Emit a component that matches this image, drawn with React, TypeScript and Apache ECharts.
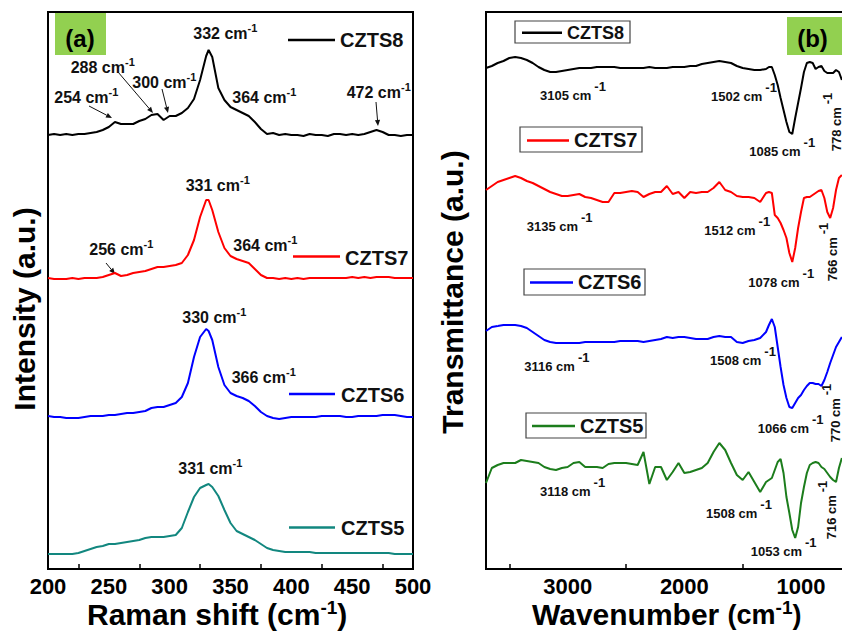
import React, { useEffect, useRef } from 'react';
import * as echarts from 'echarts';

const FONT = '"Liberation Sans", Arial, Helvetica, sans-serif';

// ---------- Raman (panel a) ----------
const ramanShift = [
  200, 205, 210, 215, 220, 225, 230, 235, 240, 245,
  250, 255, 260, 265, 270, 275, 280, 285, 290, 295,
  300, 305, 310, 315, 320, 325, 330, 332, 335, 340, 345,
  350, 355, 360, 365, 370, 375, 380, 385, 390, 395,
  400, 405, 410, 415, 420, 425, 430, 435, 440, 445,
  450, 455, 460, 465, 470, 475, 480, 485, 490, 495,
  500,
];
const ramanCZTS8 = [
  434, 435, 434, 435, 434, 435, 435, 436, 437, 439,
  442, 447, 445, 445, 445, 448, 450, 454, 455, 449,
  453, 453, 456, 461, 470, 489, 513, 519, 512, 481, 469,
  462, 459, 456, 453, 447, 440, 435, 436, 434, 435,
  434, 434, 433, 435, 434, 434, 433, 435, 435, 434,
  435, 434, 435, 437, 439, 437, 434, 434, 433, 434,
  434,
];
const ramanCZTS7 = [
  291, 290, 290, 290, 291, 290, 291, 291, 291, 292,
  294, 296, 293, 294, 296, 297, 298, 300, 302, 302,
  303, 304, 306, 314, 329, 352, 369, 369, 359, 337, 321,
  313, 310, 308, 306, 300, 294, 291, 291, 290, 291,
  290, 291, 290, 291, 291, 291, 291, 291, 291, 291,
  292, 291, 292, 291, 292, 292, 292, 291, 291, 291,
  291,
];
const ramanCZTS6 = [
  153, 152, 152, 151, 151, 151, 152, 153, 153, 153,
  154, 154, 155, 156, 156, 157, 158, 161, 162, 162,
  164, 166, 172, 186, 212, 232, 240, 238, 229, 202, 184,
  176, 173, 171, 168, 163, 157, 153, 151, 150, 151,
  152, 152, 152, 152, 152, 153, 153, 153, 153, 152,
  152, 153, 153, 153, 153, 154, 154, 154, 153, 152,
  152,
];
const ramanCZTS5 = [
  15, 15, 15, 15, 15, 16, 18, 20, 22, 23,
  25, 25, 26, 27, 28, 29, 31, 32, 32, 32,
  33, 34, 41, 57, 72, 81, 84, 85, 82, 73, 59,
  46, 38, 35, 32, 29, 25, 21, 19, 18, 17,
  17, 17, 17, 17, 16, 16, 16, 16, 16, 16,
  16, 16, 16, 16, 16, 16, 16, 15, 15, 15,
  15,
];
const ramanTicks = [200, 250, 300, 350, 400, 450, 500];

// ---------- FTIR (panel b) ----------
const wavenumber = [
  3700, 3650, 3600, 3550, 3500, 3450, 3400, 3350, 3300, 3250,
  3200, 3150, 3100, 3050, 3000, 2950, 2900, 2850, 2800, 2750,
  2700, 2650, 2600, 2550, 2500, 2450, 2400, 2350, 2300, 2250,
  2200, 2150, 2100, 2050, 2000, 1950, 1900, 1850, 1800, 1750,
  1700, 1650, 1600, 1550, 1500, 1450, 1400, 1350, 1300,
  1275, 1250, 1225, 1200, 1175, 1150, 1125, 1100, 1075, 1050,
  1025, 1000, 975, 950, 925, 900, 875, 850, 825, 800,
  775, 750, 725, 700, 675, 650,
];
const ftirCZTS8 = [
  501, 503, 506, 508, 511, 512, 511, 509, 506, 502,
  499, 497, 497, 498, 499, 500, 501, 501, 501, 502,
  502, 502, 502, 501, 501, 501, 501, 501, 502, 501,
  501, 501, 502, 502, 502, 503, 503, 505, 506, 507,
  508, 507, 506, 503, 501, 500, 499, 499, 500,
  502, 502, 494, 484, 471, 459, 447, 437, 435, 451,
  466, 481, 497, 506, 507, 506, 500, 502, 503, 498,
  496, 496, 496, 499, 497, 489,
];
const ftirCZTS7 = [
  379, 383, 387, 389, 391, 393, 391, 388, 386, 383,
  380, 377, 375, 373, 373, 374, 375, 372, 371, 369,
  367, 367, 376, 376, 377, 378, 377, 372, 375, 377,
  377, 383, 375, 377, 371, 377, 376, 377, 377, 381,
  387, 379, 377, 373, 372, 372, 371, 367, 376,
  377, 376, 354, 351, 346, 339, 331, 316, 307, 321,
  341, 357, 371, 372, 372, 374, 376, 378, 379, 371,
  357, 351, 361, 379, 391, 394,
];
const ftirCZTS6 = [
  238, 242, 243, 244, 244, 244, 243, 241, 237, 233,
  229, 227, 226, 226, 226, 226, 226, 227, 227, 227,
  227, 227, 227, 228, 228, 228, 228, 227, 228, 229,
  230, 232, 231, 232, 232, 231, 230, 230, 230, 232,
  233, 232, 232, 227, 226, 228, 229, 231, 237,
  244, 250, 242, 222, 202, 184, 171, 162, 161, 166,
  171, 174, 179, 183, 186, 186, 185, 185, 183, 189,
  197, 206, 214, 222, 227, 232,
];
const ftirCZTS5 = [
  86, 101, 104, 106, 106, 106, 109, 108, 107, 106,
  102, 100, 99, 101, 102, 106, 107, 102, 102, 102,
  101, 105, 106, 106, 106, 105, 104, 117, 85, 102,
  102, 89, 97, 106, 96, 97, 99, 101, 106, 117,
  126, 119, 106, 94, 89, 97, 87, 77, 87,
  89, 91, 99, 107, 110, 96, 72, 56, 39, 31,
  42, 66, 82, 96, 104, 106, 107, 106, 102, 100,
  96, 92, 89, 87, 101, 111,
];
const ftirTicks = [1000, 2000, 3000];

const sampleNames = ['CZTS8', 'CZTS7', 'CZTS6', 'CZTS5'];
const ramanColors = ['#000000', '#ff0000', '#0000ff', '#12877f'];
const ftirColors = ['#000000', '#ff0000', '#0000ff', '#1c7d1c'];

const ramanPeaks = ['332', '288', '300', '254', '364', '472', '331', '256', '364', '330', '366', '331'];
const ftirPeaks = ['3105', '1502', '1085', '3135', '1512', '1078', '3116', '1508', '1066', '3118', '1508', '1053'];
const ftirRotPeaks = ['778', '766', '770', '716'];

// ---------- helpers ----------
const txt = (x: number, y: number, text: string, size: number, extra: any = {}) => ({
  type: 'text',
  x,
  y,
  style: {
    text,
    fontSize: size,
    fontWeight: 'bold',
    fontFamily: FONT,
    fill: '#000',
    align: 'left',
    verticalAlign: 'middle',
    ...extra,
  },
});

const ramanRich = {
  n: { fontSize: 16, fontWeight: 'bold', fontFamily: FONT, fill: '#111', padding: [3, 0, 0, 0], verticalAlign: 'bottom' },
  s: { fontSize: 11, fontWeight: 'bold', fontFamily: FONT, fill: '#111', verticalAlign: 'top' },
};
const ftirRich = {
  n: { fontSize: 13, fontWeight: 'bold', fontFamily: FONT, fill: '#111', padding: [9, 0, 0, 0], verticalAlign: 'bottom' },
  s: { fontSize: 13, fontWeight: 'bold', fontFamily: FONT, fill: '#111', padding: [0, 0, 0, 3], verticalAlign: 'top' },
};

const ramanAnn = (x: number, yc: number, label: string) => ({
  type: 'text',
  x,
  y: yc - 1.5,
  style: {
    text: `{n|${label} cm}{s|-1}`,
    rich: ramanRich,
    fill: '#111',
    fontFamily: FONT,
    align: 'left',
    verticalAlign: 'middle',
  },
});

const ftirAnn = (x: number, yc: number, label: string) => ({
  type: 'text',
  x,
  y: yc - 4.5,
  style: {
    text: `{n|${label} cm}{s|-1}`,
    rich: ftirRich,
    fill: '#111',
    fontFamily: FONT,
    align: 'left',
    verticalAlign: 'middle',
  },
});

const ftirRotAnn = (xMain: number, yc: number, label: string) => ({
  type: 'text',
  x: xMain - 4.5,
  y: yc,
  rotation: Math.PI / 2,
  style: {
    text: `{n|${label} cm}{s|-1}`,
    rich: ftirRich,
    fill: '#111',
    fontFamily: FONT,
    align: 'center',
    verticalAlign: 'middle',
  },
});

const arrow = (x1: number, y1: number, x2: number, y2: number) => {
  const ang = Math.atan2(y2 - y1, x2 - x1);
  const L = 6;
  const W = 2.6;
  const bx = x2 - L * Math.cos(ang);
  const by = y2 - L * Math.sin(ang);
  const px = -Math.sin(ang) * W;
  const py = Math.cos(ang) * W;
  return [
    { type: 'line', shape: { x1, y1, x2: bx, y2: by }, style: { stroke: '#111', lineWidth: 1 } },
    {
      type: 'polygon',
      shape: { points: [[x2, y2], [bx + px, by + py], [bx - px, by - py]] },
      style: { fill: '#111' },
    },
  ];
};

const ramanLegend = (x1: number, x2: number, y: number, tx: number, ty: number, i: number) => [
  { type: 'line', shape: { x1, y1: y, x2, y2: y }, style: { stroke: ramanColors[i], lineWidth: 2.5 } },
  txt(tx, ty, sampleNames[i], 20, { fill: '#111' }),
];

const ftirLegend = (
  rx: number, ry: number, rw: number, rh: number,
  lx1: number, lx2: number, ly: number, tx: number, ty: number, size: number, i: number,
) => [
  { type: 'rect', shape: { x: rx, y: ry, width: rw, height: rh }, style: { fill: '#fff', stroke: '#444', lineWidth: 1.2 } },
  { type: 'line', shape: { x1: lx1, y1: ly, x2: lx2, y2: ly }, style: { stroke: ftirColors[i], lineWidth: 2.5 } },
  txt(tx, ty, sampleNames[i], size, { fill: '#111' }),
];

function buildOption(): any {
  const ramanSets = [ramanCZTS8, ramanCZTS7, ramanCZTS6, ramanCZTS5];
  const ftirSets = [ftirCZTS8, ftirCZTS7, ftirCZTS6, ftirCZTS5];

  const series: any[] = [];
  ramanSets.forEach((vals, i) => {
    series.push({
      name: 'Raman ' + sampleNames[i],
      type: 'line',
      xAxisIndex: 0,
      yAxisIndex: 0,
      showSymbol: false,
      symbol: 'none',
      silent: true,
      lineStyle: { color: ramanColors[i], width: 2 },
      data: ramanShift.map((x, k) => [x, vals[k]]),
    });
  });
  ftirSets.forEach((vals, i) => {
    series.push({
      name: 'FTIR ' + sampleNames[i],
      type: 'line',
      xAxisIndex: 1,
      yAxisIndex: 1,
      showSymbol: false,
      symbol: 'none',
      silent: true,
      lineStyle: { color: ftirColors[i], width: 2 },
      data: wavenumber.map((x, k) => [x, vals[k]]),
    });
  });

  const axisLabel = { fontSize: 22, lineHeight: 18, fontWeight: 'bold', color: '#000', fontFamily: FONT, margin: 8 };
  const minorTick = { show: true, splitNumber: 2, length: 5, lineStyle: { color: '#000', width: 1.5 } };

  const titleRich = {
    n: { fontSize: 30, fontWeight: 'bold', fontFamily: FONT, fill: '#000', padding: [2, 0, 0, 0], verticalAlign: 'bottom' },
    p: { fontSize: 27, fontWeight: 'bold', fontFamily: FONT, fill: '#000', padding: [0, 0, 1, 0], verticalAlign: 'bottom' },
    s: { fontSize: 19, fontWeight: 'bold', fontFamily: FONT, fill: '#000', verticalAlign: 'top' },
  };

  const graphic: any[] = [
    // panel tags
    { type: 'rect', shape: { x: 55, y: 13, width: 51, height: 42 }, style: { fill: '#92d050' } },
    txt(80, 38, '(a)', 24, { align: 'center' }),
    { type: 'rect', shape: { x: 787, y: 17, width: 60, height: 38 }, style: { fill: '#92d050' } },
    txt(812.5, 38, '(b)', 24, { align: 'center' }),

    // axis titles
    {
      type: 'text', x: 87, y: 613.5,
      style: {
        text: '{n|Raman shift (cm}{s|-1}{n|)}',
        align: 'left', verticalAlign: 'middle', fill: '#000', fontFamily: FONT,
        rich: titleRich,
      },
    },
    {
      type: 'text', x: 532, y: 613.5,
      style: {
        text: '{n|Wavenumber }{p|(cm}{s|-1}{p|)}',
        align: 'left', verticalAlign: 'middle', fill: '#000', fontFamily: FONT,
        rich: titleRich,
      },
    },
    {
      type: 'text', x: 24.5, y: 309, rotation: Math.PI / 2,
      style: { text: 'Intensity (a.u.)', fontSize: 30, fontWeight: 'bold', fontFamily: FONT, fill: '#000', align: 'center', verticalAlign: 'middle' },
    },
    {
      type: 'text', x: 452.5, y: 292, rotation: Math.PI / 2,
      style: { text: 'Transmittance (a.u.)', fontSize: 30, fontWeight: 'bold', fontFamily: FONT, fill: '#000', align: 'center', verticalAlign: 'middle' },
    },

    // Raman legends
    ...ramanLegend(288, 335, 40, 340, 40, 0),
    ...ramanLegend(293, 340, 256.5, 345, 258, 1),
    ...ramanLegend(289, 335, 394, 341, 394.5, 2),
    ...ramanLegend(289, 335, 527.5, 341, 528, 3),

    // FTIR legends
    ...ftirLegend(515, 21, 115, 22, 522, 562, 32.7, 567, 33, 18, 0),
    ...ftirLegend(520, 127, 122, 25, 527, 569, 140.5, 574, 140, 20, 1),
    ...ftirLegend(524, 269, 121, 26, 530, 573, 282.5, 578, 282, 20, 2),
    ...ftirLegend(526, 413, 120, 25, 532, 575, 426, 580, 426, 20, 3),

    // Raman peak annotations
    ramanAnn(193.3, 33, ramanPeaks[0]),
    ramanAnn(70.7, 67, ramanPeaks[1]),
    ramanAnn(132.3, 82, ramanPeaks[2]),
    ramanAnn(54.3, 97, ramanPeaks[3]),
    ramanAnn(232.3, 97, ramanPeaks[4]),
    ramanAnn(346.7, 92.3, ramanPeaks[5]),
    ramanAnn(185.7, 185.3, ramanPeaks[6]),
    ramanAnn(89.3, 249.5, ramanPeaks[7]),
    ramanAnn(233.3, 245.3, ramanPeaks[8]),
    ramanAnn(182.3, 317, ramanPeaks[9]),
    ramanAnn(231.7, 377.7, ramanPeaks[10]),
    ramanAnn(178.3, 468.3, ramanPeaks[11]),

    // arrows
    ...arrow(89, 106, 112, 118),
    ...arrow(118, 72, 153, 113),
    ...arrow(162, 89, 168, 113),
    ...arrow(376, 102, 378, 126),
    ...arrow(106, 263, 115, 274),

    // FTIR annotations
    ftirAnn(540, 95, ftirPeaks[0]),
    ftirAnn(711, 96, ftirPeaks[1]),
    ftirAnn(749.3, 151.7, ftirPeaks[2]),
    ftirAnn(526.7, 226, ftirPeaks[3]),
    ftirAnn(704.3, 230, ftirPeaks[4]),
    ftirAnn(748.3, 282.7, ftirPeaks[5]),
    ftirAnn(524.3, 366, ftirPeaks[6]),
    ftirAnn(710, 360.7, ftirPeaks[7]),
    ftirAnn(757.7, 428.3, ftirPeaks[8]),
    ftirAnn(540, 491, ftirPeaks[9]),
    ftirAnn(706, 513.3, ftirPeaks[10]),
    ftirAnn(750.7, 551.7, ftirPeaks[11]),
    ftirRotAnn(836, 122, ftirRotPeaks[0]),
    ftirRotAnn(832.5, 252, ftirRotPeaks[1]),
    ftirRotAnn(835.5, 413, ftirRotPeaks[2]),
    ftirRotAnn(831, 510, ftirRotPeaks[3]),
  ];

  return {
    animation: false,
    backgroundColor: '#ffffff',
    textStyle: { fontFamily: FONT },
    grid: [
      { left: 48, top: 12, width: 365, height: 557, outerBoundsMode: 'none', containLabel: false, show: true, borderColor: '#000', borderWidth: 2, backgroundColor: 'transparent' },
      { left: 486, top: 12, width: 431.7, height: 557, outerBoundsMode: 'none', containLabel: false, show: true, borderColor: '#000', borderWidth: 2, backgroundColor: 'transparent' },
    ],
    xAxis: [
      {
        gridIndex: 0,
        type: 'value',
        min: ramanTicks[0],
        max: ramanTicks[ramanTicks.length - 1],
        interval: ramanTicks[1] - ramanTicks[0],
        axisLine: { show: true, onZero: false, lineStyle: { color: '#000', width: 2 } },
        axisTick: { show: false, inside: true },
        minorTick,
        splitLine: { show: false },
        minorSplitLine: { show: false },
        axisLabel,
      },
      {
        gridIndex: 1,
        type: 'value',
        inverse: true,
        min: 0,
        max: wavenumber[0],
        interval: ftirTicks[1] - ftirTicks[0],
        axisLine: { show: true, onZero: false, lineStyle: { color: '#000', width: 2 } },
        axisTick: { show: false, inside: true },
        minorTick,
        splitLine: { show: false },
        minorSplitLine: { show: false },
        axisLabel: {
          ...axisLabel,
          formatter: (v: number) => (ftirTicks.indexOf(v) >= 0 ? String(v) : ''),
        },
      },
    ],
    yAxis: [
      { gridIndex: 0, type: 'value', min: 0, max: 557, show: false },
      { gridIndex: 1, type: 'value', min: 0, max: 557, show: false },
    ],
    series,
    graphic,
  };
}

export default function App() {
  const ref = useRef<HTMLDivElement>(null);
  useEffect(() => {
    if (!ref.current) return;
    const chart = echarts.init(ref.current, null, { renderer: 'svg' });
    chart.setOption(buildOption());
    return () => chart.dispose();
  }, []);
  return (
    <div
      ref={ref}
      style={{ position: 'absolute', left: 0, top: 0, width: 842, height: 631, background: '#fff' }}
    />
  );
}
